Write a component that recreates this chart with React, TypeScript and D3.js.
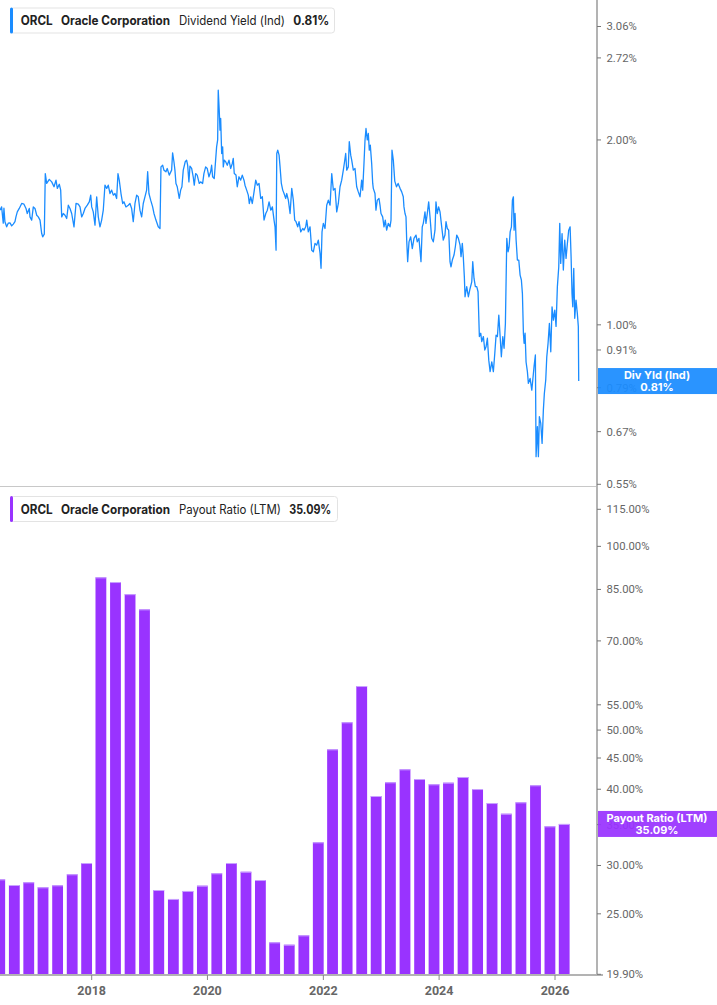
import React from "react";
import * as d3 from "d3";

// ---------- DATA ----------
const yieldDates = [
2016.416,2016.445,2016.473,2016.485,2016.502,2016.532,2016.559,2016.589,2016.618,2016.646,2016.675,2016.692,2016.715,2016.749,2016.791,2016.830,2016.865,2016.887,2016.922,2016.934,2016.963,2016.991,2017.020,2017.050,2017.077,2017.107,2017.136,2017.153,2017.181,2017.198,2017.222,2017.267,2017.309,2017.349,2017.383,2017.406,2017.440,2017.464,2017.482,2017.509,2017.539,2017.568,2017.596,2017.625,2017.654,2017.694,2017.729,2017.768,2017.798,2017.827,2017.855,2017.884,2017.924,2017.958,2017.983,2018.000,2018.027,2018.057,2018.086,2018.114,2018.143,2018.172,2018.200,2018.229,2018.259,2018.286,2018.316,2018.345,2018.373,2018.402,2018.431,2018.454,2018.476,2018.506,2018.535,2018.557,2018.592,2018.632,2018.661,2018.690,2018.718,2018.748,2018.777,2018.805,2018.834,2018.863,2018.891,2018.920,2018.949,2018.967,2018.989,2019.019,2019.053,2019.076,2019.110,2019.150,2019.180,2019.197,2019.226,2019.248,2019.283,2019.305,2019.340,2019.381,2019.398,2019.421,2019.438,2019.456,2019.478,2019.513,2019.537,2019.559,2019.582,2019.616,2019.640,2019.658,2019.680,2019.698,2019.727,2019.754,2019.772,2019.796,2019.823,2019.858,2019.882,2019.917,2019.939,2019.969,2019.996,2020.026,2020.055,2020.072,2020.089,2020.117,2020.141,2020.158,2020.176,2020.186,2020.203,2020.216,2020.228,2020.245,2020.262,2020.273,2020.290,2020.314,2020.342,2020.371,2020.400,2020.428,2020.445,2020.462,2020.492,2020.514,2020.543,2020.573,2020.600,2020.630,2020.647,2020.676,2020.704,2020.721,2020.746,2020.773,2020.803,2020.832,2020.860,2020.889,2020.918,2020.946,2020.975,2021.005,2021.032,2021.062,2021.091,2021.119,2021.148,2021.165,2021.183,2021.195,2021.212,2021.235,2021.252,2021.274,2021.298,2021.321,2021.350,2021.367,2021.395,2021.425,2021.454,2021.481,2021.505,2021.528,2021.557,2021.580,2021.609,2021.644,2021.666,2021.695,2021.713,2021.740,2021.770,2021.799,2021.827,2021.856,2021.885,2021.913,2021.943,2021.960,2021.977,2022.000,2022.029,2022.058,2022.086,2022.116,2022.145,2022.173,2022.202,2022.231,2022.259,2022.288,2022.317,2022.345,2022.362,2022.386,2022.404,2022.431,2022.448,2022.473,2022.490,2022.518,2022.547,2022.576,2022.604,2022.634,2022.662,2022.680,2022.702,2022.720,2022.737,2022.759,2022.777,2022.794,2022.811,2022.835,2022.853,2022.863,2022.892,2022.909,2022.932,2022.961,2022.979,2022.996,2023.025,2023.048,2023.070,2023.094,2023.122,2023.152,2023.169,2023.186,2023.209,2023.234,2023.264,2023.292,2023.325,2023.354,2023.381,2023.393,2023.411,2023.428,2023.440,2023.457,2023.480,2023.509,2023.537,2023.566,2023.601,2023.623,2023.652,2023.670,2023.687,2023.709,2023.727,2023.744,2023.756,2023.773,2023.796,2023.820,2023.843,2023.872,2023.900,2023.929,2023.946,2023.968,2023.992,2024.016,2024.045,2024.072,2024.101,2024.119,2024.141,2024.165,2024.188,2024.205,2024.228,2024.257,2024.280,2024.304,2024.332,2024.361,2024.378,2024.400,2024.417,2024.435,2024.447,2024.476,2024.504,2024.534,2024.563,2024.580,2024.602,2024.625,2024.649,2024.671,2024.694,2024.718,2024.735,2024.763,2024.787,2024.809,2024.832,2024.856,2024.879,2024.908,2024.935,2024.960,2024.982,2025.005,2025.029,2025.052,2025.073,2025.098,2025.120,2025.143,2025.167,2025.189,2025.207,2025.225,2025.247,2025.264,2025.281,2025.293,2025.310,2025.328,2025.350,2025.374,2025.397,2025.419,2025.437,2025.454,2025.466,2025.483,2025.500,2025.523,2025.540,2025.570,2025.599,2025.616,2025.638,2025.661,2025.673,2025.696,2025.713,2025.730,2025.754,2025.777,2025.799,2025.816,2025.840,2025.858,2025.880,2025.903,2025.927,2025.949,2025.972,2025.996,2026.018,2026.041,2026.065,2026.082,2026.099,2026.122,2026.144,2026.168,2026.191,2026.214,2026.237,2026.261,2026.278,2026.294,2026.307,2026.324,2026.341,2026.363,2026.386,2026.403,2026.410
];
const yieldValues = [
1.537,1.556,1.464,1.548,1.472,1.444,1.464,1.466,1.449,1.459,1.472,1.499,1.527,1.547,1.576,1.572,1.547,1.518,1.547,1.499,1.481,1.556,1.547,1.508,1.499,1.481,1.408,1.391,1.405,1.763,1.699,1.725,1.709,1.678,1.720,1.668,1.694,1.657,1.499,1.518,1.508,1.490,1.566,1.547,1.518,1.444,1.576,1.572,1.556,1.499,1.518,1.547,1.566,1.586,1.626,1.556,1.527,1.453,1.616,1.499,1.444,1.481,1.537,1.688,1.668,1.688,1.636,1.657,1.626,1.636,1.606,1.763,1.720,1.636,1.576,1.586,1.556,1.566,1.576,1.547,1.472,1.576,1.626,1.616,1.537,1.499,1.576,1.616,1.657,1.775,1.636,1.596,1.556,1.518,1.481,1.444,1.435,1.808,1.819,1.786,1.775,1.797,1.753,1.786,1.906,1.843,1.786,1.699,1.678,1.606,1.657,1.678,1.786,1.843,1.854,1.819,1.709,1.813,1.797,1.742,1.688,1.763,1.753,1.699,1.709,1.699,1.763,1.808,1.797,1.742,1.775,1.819,1.742,1.731,1.854,1.949,2.000,2.410,2.236,2.075,2.168,1.901,1.949,1.808,1.854,1.843,1.819,1.854,1.797,1.831,1.866,1.763,1.753,1.678,1.742,1.720,1.753,1.720,1.688,1.657,1.626,1.576,1.616,1.576,1.646,1.720,1.688,1.699,1.606,1.616,1.481,1.518,1.537,1.586,1.537,1.556,1.481,1.444,1.323,1.901,1.925,1.889,1.808,1.699,1.657,1.636,1.606,1.636,1.596,1.518,1.668,1.596,1.481,1.472,1.444,1.472,1.417,1.435,1.426,1.444,1.481,1.417,1.444,1.323,1.315,1.357,1.348,1.374,1.307,1.236,1.417,1.463,1.435,1.566,1.596,1.566,1.763,1.657,1.668,1.527,1.576,1.678,1.720,1.786,1.831,1.901,1.786,1.808,1.987,1.889,1.854,1.786,1.797,1.678,1.646,1.616,1.720,1.657,1.831,2.000,2.088,2.000,2.049,1.925,1.962,1.831,1.699,1.668,1.636,1.537,1.596,1.606,1.566,1.518,1.499,1.444,1.481,1.426,1.463,1.444,1.481,1.925,1.854,1.714,1.678,1.699,1.668,1.646,1.616,1.556,1.518,1.499,1.374,1.267,1.365,1.391,1.331,1.383,1.400,1.365,1.383,1.323,1.267,1.444,1.463,1.499,1.527,1.463,1.518,1.586,1.499,1.383,1.365,1.426,1.586,1.518,1.556,1.527,1.444,1.374,1.400,1.472,1.435,1.426,1.267,1.243,1.275,1.299,1.340,1.400,1.383,1.348,1.291,1.357,1.291,1.198,1.111,1.154,1.111,1.146,1.175,1.267,1.190,1.154,1.154,1.132,0.957,0.969,0.939,0.957,0.910,0.921,0.951,0.876,0.839,0.870,0.839,0.899,0.962,0.957,1.037,0.957,0.887,0.957,0.916,1.005,1.383,1.315,1.340,1.417,1.444,1.596,1.616,1.426,1.518,1.374,1.275,1.275,1.205,1.183,1.124,0.969,0.933,0.969,0.870,0.839,0.803,0.818,0.783,0.813,0.855,0.893,0.610,0.683,0.610,0.709,0.691,0.641,0.727,0.773,0.813,0.887,0.933,1.005,0.904,1.070,1.018,1.057,0.994,1.154,1.243,1.463,1.259,1.408,1.228,1.374,1.283,1.357,1.426,1.444,1.291,1.124,1.070,1.236,1.025,1.097,1.043,0.994,0.810
];

const payoutQuarters = [
"2016-05-31","2016-08-31","2016-11-30","2017-02-28","2017-05-31","2017-08-31","2017-11-30",
"2018-02-28","2018-05-31","2018-08-31","2018-11-30","2019-02-28","2019-05-31","2019-08-31","2019-11-30",
"2020-02-29","2020-05-31","2020-08-31","2020-11-30","2021-02-28","2021-05-31","2021-08-31","2021-11-30",
"2022-02-28","2022-05-31","2022-08-31","2022-11-30","2023-02-28","2023-05-31","2023-08-31","2023-11-30",
"2024-02-29","2024-05-31","2024-08-31","2024-11-30","2025-02-28","2025-05-31","2025-08-31","2025-11-30",
"2026-02-28"
];
const payoutValues = [
28.47,27.87,28.16,27.63,27.84,29.02,30.28,
88.96,87.4,83.5,78.85,27.35,26.44,27.25,27.8,
29.13,30.28,29.3,28.4,22.45,22.25,23.05,32.74,
46.5,51.49,59.04,38.99,41.06,43.12,41.57,40.75,
41.0,41.89,40.03,37.97,36.47,38.07,40.6,34.78,
35.09
];

const yieldTicks = [3.06, 2.72, 2.0, 1.0, 0.91, 0.79, 0.67, 0.55];
const payoutTicks = [115, 100, 85, 70, 55, 50, 45, 40, 35, 30, 25, 19.9];
const yearTicks = [2018, 2020, 2022, 2024, 2026];

const lastYield = 0.81;
const lastPayout = 35.09;

// ---------- HELPERS ----------
const decToDate = (t: number) => {
  const y = Math.floor(t);
  const s = Date.UTC(y, 0, 1);
  const e = Date.UTC(y + 1, 0, 1);
  return new Date(s + (t - y) * (e - s));
};

const W = 717;
const H = 1005;
const AXIS_X = 597;
const BLUE = "#1a8cff";
const PURPLE = "#9933ff";
const TICK_FONT = "Roboto, 'Liberation Sans', Arial, sans-serif";
const LEG_FONT = "Inter, 'Noto Sans', Arial, sans-serif";

export default function App() {
  const x = d3
    .scaleUtc()
    .domain([new Date(Date.UTC(2018, 0, 1)), new Date(Date.UTC(2026, 0, 1))])
    .range([91.7, 555]);

  const yTop = d3.scaleLog().domain([0.55, 3.06]).range([484.3, 26.5]);
  const yBot = d3.scaleLog().domain([19.9, 115]).range([974.3, 509.3]);

  const pts = yieldDates.map((t, i) => [decToDate(t), yieldValues[i]] as [Date, number]);
  const line = d3
    .line<[Date, number]>()
    .x((d) => x(d[0]))
    .y((d) => yTop(d[1]));

  const barDates = payoutQuarters.map((s) => new Date(s + "T00:00:00Z"));
  const barW = 10.8;
  const base = yBot(19.9);

  const legend = (
    y0: number,
    color: string,
    metric: string,
    metricW: number,
    val: string,
    valX: number,
    valW: number,
    boxW: number
  ) => (
    <g>
      <rect x={10.5} y={y0 + 0.5} width={boxW} height={25} rx={3} fill="#fff" stroke="#e3e3e3" />
      <rect x={10} y={y0} width={3} height={26} rx={1.5} fill={color} />
      <g fontFamily={LEG_FONT} fontSize={12.5} fill="#222">
        <text x={20.7} y={y0 + 17.5} fontWeight={700} textLength={32} lengthAdjust="spacingAndGlyphs">ORCL</text>
        <text x={61} y={y0 + 17.5} fontWeight={700} textLength={109} lengthAdjust="spacingAndGlyphs">Oracle Corporation</text>
        <text x={179} y={y0 + 17.5} fontWeight={400} textLength={metricW} lengthAdjust="spacingAndGlyphs">{metric}</text>
        <text x={valX} y={y0 + 17.5} fontWeight={700} textLength={valW} lengthAdjust="spacingAndGlyphs">{val}</text>
      </g>
    </g>
  );

  return (
    <div style={{ position: "absolute", left: 0, top: 0 }}>
      <svg width={W} height={H} viewBox={`0 0 ${W} ${H}`} style={{ display: "block", background: "#fff" }}>
        {/* ---- top panel line ---- */}
        <path d={line(pts) || ""} fill="none" stroke={BLUE} strokeWidth={1.3} strokeLinejoin="round" />

        {/* separator */}
        <line x1={0} x2={AXIS_X} y1={486.5} y2={486.5} stroke="#c8c8c8" strokeWidth={1} />

        {/* ---- bottom panel bars ---- */}
        {barDates.map((d, i) => {
          const cx = x(d);
          const top = yBot(payoutValues[i]);
          return (
            <g key={i}>
              <rect x={cx - barW / 2} y={top} width={barW} height={base - top} fill={PURPLE} />
              <line x1={cx - barW / 2} x2={cx + barW / 2} y1={top + 0.5} y2={top + 0.5} stroke="#c9a3ff" strokeWidth={1} />
            </g>
          );
        })}

        {/* bottom x axis */}
        <line x1={0} x2={603} y1={975} y2={975} stroke="#b3b3b3" strokeWidth={2} />
        {yearTicks.map((yr) => {
          const tx = x(new Date(Date.UTC(yr, 0, 1)));
          return (
            <g key={yr}>
              <line x1={tx} x2={tx} y1={975} y2={980} stroke="#888" strokeWidth={1} />
              <text x={tx} y={995} textAnchor="middle" fontFamily={TICK_FONT} fontWeight={700} fontSize={12.5} fill="#666">
                {yr}
              </text>
            </g>
          );
        })}

        {/* right axis line */}
        <line x1={AXIS_X} x2={AXIS_X} y1={0} y2={975} stroke="#b3b3b3" strokeWidth={2} />

        {/* top axis ticks */}
        {yieldTicks.map((v) => (
          <g key={"t" + v}>
            <line x1={AXIS_X} x2={601} y1={yTop(v)} y2={yTop(v)} stroke="#777" strokeWidth={1} />
            <text x={606.5} y={yTop(v)} dy="0.35em" fontFamily={TICK_FONT} fontSize={11.3} fill="#666">
              {v.toFixed(2) + "%"}
            </text>
          </g>
        ))}
        {/* bottom axis ticks */}
        {payoutTicks.map((v) => (
          <g key={"b" + v}>
            <line x1={AXIS_X} x2={601} y1={yBot(v)} y2={yBot(v)} stroke="#777" strokeWidth={1} />
            <text x={606.5} y={yBot(v)} dy="0.35em" fontFamily={TICK_FONT} fontSize={11.3} fill="#666">
              {v.toFixed(2) + "%"}
            </text>
          </g>
        ))}

        {/* value labels */}
        <g>
          <rect x={AXIS_X + 1} y={yTop(lastYield) - 13} width={W - AXIS_X} height={26} fill={BLUE} fillOpacity={0.93} />
          <text x={657} y={yTop(lastYield) - 2} textAnchor="middle" fontFamily={LEG_FONT} fontWeight={700} fontSize={11} fill="#fff">
            Div Yld (Ind)
          </text>
          <text x={657} y={yTop(lastYield) + 10} textAnchor="middle" fontFamily={LEG_FONT} fontWeight={700} fontSize={11} fill="#fff">
            {lastYield.toFixed(2) + "%"}
          </text>
        </g>
        <g>
          <rect x={AXIS_X + 1} y={yBot(lastPayout) - 13} width={W - AXIS_X} height={26} fill={PURPLE} fillOpacity={0.93} />
          <text x={657} y={yBot(lastPayout) - 2} textAnchor="middle" fontFamily={LEG_FONT} fontWeight={700} fontSize={11} fill="#fff">
            Payout Ratio (LTM)
          </text>
          <text x={657} y={yBot(lastPayout) + 10} textAnchor="middle" fontFamily={LEG_FONT} fontWeight={700} fontSize={11} fill="#fff">
            {lastPayout.toFixed(2) + "%"}
          </text>
        </g>

        {/* legends */}
        {legend(7.5, BLUE, "Dividend Yield (Ind)", 106, lastYield.toFixed(2) + "%", 293.3, 36, 324)}
        {legend(496, PURPLE, "Payout Ratio (LTM)", 102, lastPayout.toFixed(2) + "%", 289.3, 42, 327)}
      </svg>
    </div>
  );
}
